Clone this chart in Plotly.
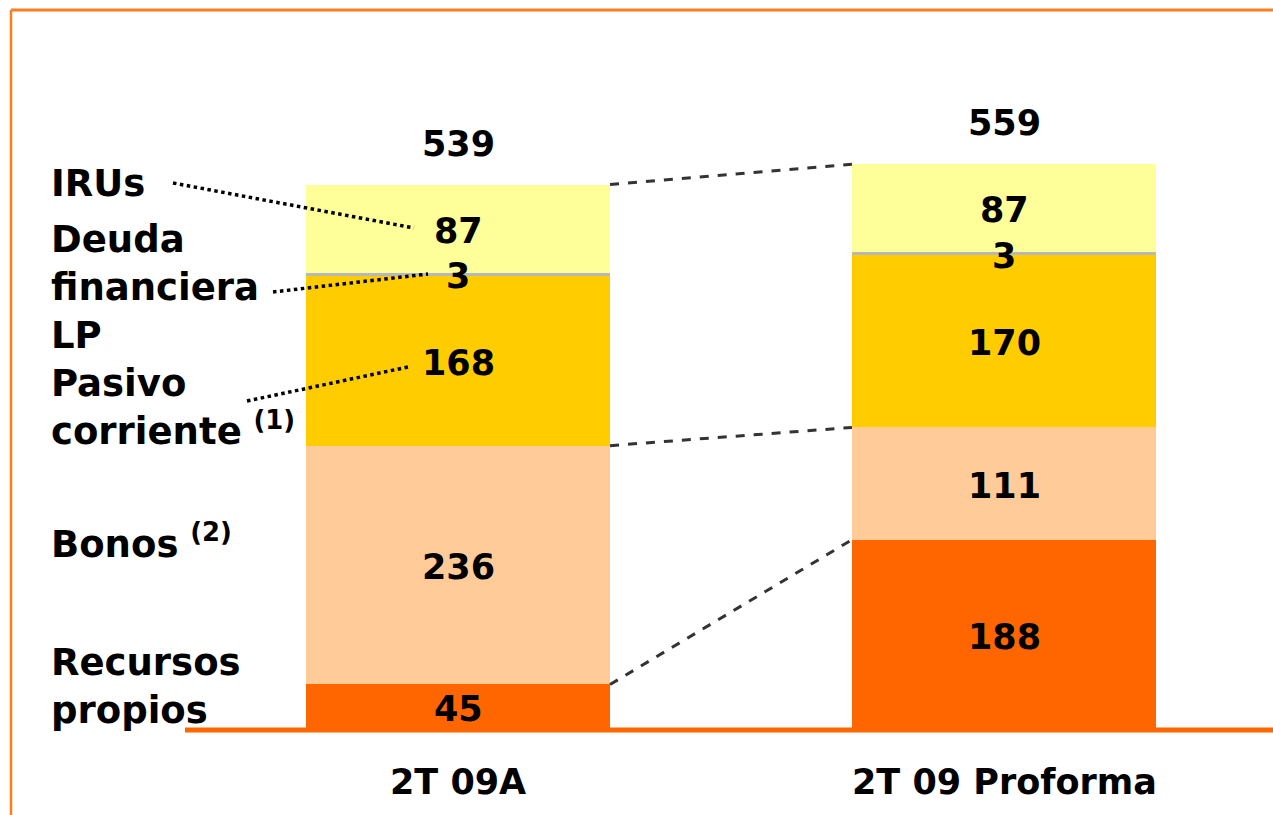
import plotly.graph_objects as go

# Data
categories = ["2T 09A", "2T 09 Proforma"]
series_names = ["Recursos propios", "Bonos", "Pasivo corriente", "Deuda financiera LP", "IRUs"]
recursos_propios = [45, 188]
bonos = [236, 111]
pasivo_corriente = [168, 170]
deuda_financiera = [3, 3]
irus = [87, 87]
totals = [539, 559]

series_values = [recursos_propios, bonos, pasivo_corriente, deuda_financiera, irus]
colors = ["#FF6600", "#FFCC99", "#FFCC00", "#B8B8B8", "#FFFF99"]

W, H = 1273, 815
FONT = "DejaVu Sans"
BAR_W = 0.557
xpos = [0, 1]

fig = go.Figure()
for name, vals, col in zip(series_names, series_values, colors):
    fig.add_trace(go.Bar(
        x=xpos, y=vals, name=name, width=BAR_W,
        marker=dict(color=col, line=dict(width=0)),
        hoverinfo="skip", showlegend=False,
    ))

annotations = []

# Value labels centred in each segment
for i in range(len(xpos)):
    base = 0
    for vals in series_values:
        v = vals[i]
        annotations.append(dict(
            x=xpos[i], y=base + v / 2, xref="x", yref="y",
            text=f"<b>{v}</b>", showarrow=False,
            font=dict(family=FONT, size=35, color="black"),
            xanchor="center", yanchor="middle", yshift=-2,
        ))
        base += v
    # total above the bar
    annotations.append(dict(
        x=xpos[i], y=totals[i], xref="x", yref="y",
        text=f"<b>{totals[i]}</b>", showarrow=False,
        font=dict(family=FONT, size=35, color="black"),
        xanchor="center", yanchor="middle", yshift=41,
    ))
    # category label under the axis
    annotations.append(dict(
        x=xpos[i], y=0, xref="x", yref="y",
        text=f"<b>{categories[i]}</b>", showarrow=False,
        font=dict(family=FONT, size=35, color="black"),
        xanchor="center", yanchor="middle", yshift=-52,
    ))


def py(p):
    """pixel row -> paper y"""
    return 1 - p / H


def px(p):
    """pixel column -> paper x"""
    return p / W


# Series names on the left
left_labels = [
    ("<b>IRUs</b>", 183),
    ("<b>Deuda<br>financiera<br>LP</b>", 287),
    ("<b>Pasivo<br>corriente</b> <b><sup>(1)</sup></b>", 407),
    ("<b>Bonos</b> <b><sup>(2)</sup></b>", 541),
    ("<b>Recursos<br>propios</b>", 686),
]
for txt, yp in left_labels:
    annotations.append(dict(
        x=px(49), y=py(yp), xref="paper", yref="paper",
        text=txt, showarrow=False, align="left",
        font=dict(family=FONT, size=37, color="black"),
        xanchor="left", yanchor="middle",
    ))

shapes = []

# Dotted leader lines from names to segments
leaders = [((173, 183), (414, 228)), ((273, 292), (428, 274)), ((247, 401), (408, 367))]
for (x0, y0), (x1, y1) in leaders:
    shapes.append(dict(type="line", xref="paper", yref="paper",
                       x0=px(x0), y0=py(y0), x1=px(x1), y1=py(y1),
                       line=dict(color="black", width=3.5, dash="dot")))

# Dashed connectors between the two bars
half = BAR_W / 2
cum1 = [recursos_propios[0], recursos_propios[0] + bonos[0], totals[0]]
cum2 = [recursos_propios[1], recursos_propios[1] + bonos[1], totals[1]]
for a, b in zip(cum1, cum2):
    shapes.append(dict(type="line", xref="x", yref="y",
                       x0=xpos[0] + half, y0=a, x1=xpos[1] - half, y1=b,
                       line=dict(color="#333333", width=3, dash="dash")))

# Orange baseline
shapes.append(dict(type="line", xref="paper", yref="y",
                   x0=px(185), x1=1, y0=0, y1=0,
                   line=dict(color="#FF6600", width=5)))

# Frame: top and left edges
shapes.append(dict(type="line", xref="paper", yref="paper",
                   x0=px(11), x1=1, y0=py(10), y1=py(10),
                   line=dict(color="#FF7F1E", width=3)))
shapes.append(dict(type="line", xref="paper", yref="paper",
                   x0=px(11), x1=px(11), y0=py(10), y1=0,
                   line=dict(color="#FF7F1E", width=2.5)))

# axis ranges: bar centres at 458 and 1004 px, baseline at 730 px
x_scale = 546.0
x_range = [-458 / x_scale, (W - 458) / x_scale]
y_scale = 1.012
y_range = [-(H - 730) / y_scale, 730 / y_scale]

fig.update_layout(
    width=W, height=H,
    margin=dict(l=0, r=0, t=0, b=0),
    paper_bgcolor="white", plot_bgcolor="white",
    barmode="stack", bargap=0,
    xaxis=dict(range=x_range, visible=False, fixedrange=True),
    yaxis=dict(range=y_range, visible=False, fixedrange=True),
    annotations=annotations, shapes=shapes,
    showlegend=False,
)

fig.write_html("out.html", config={"displayModeBar": False})
